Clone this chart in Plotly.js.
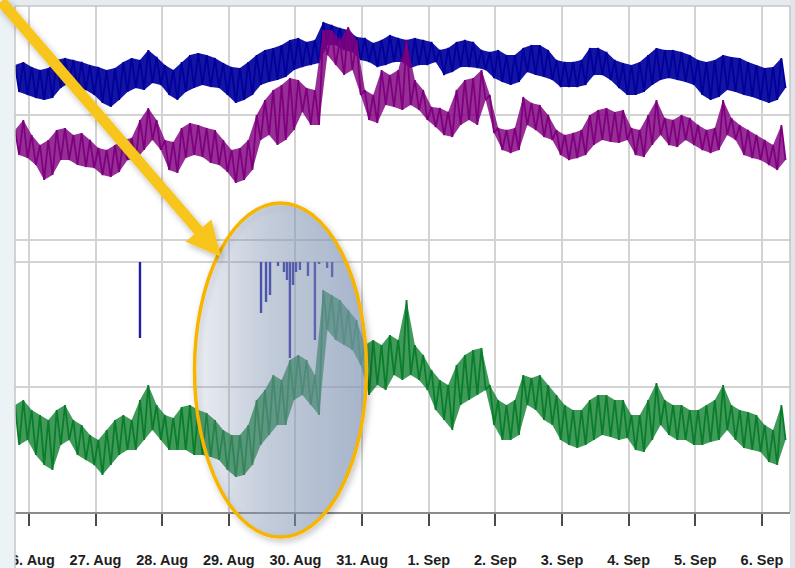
<!DOCTYPE html>
<html>
<head>
<meta charset="utf-8">
<script src="https://cdn.plot.ly/plotly-3.0.1.min.js"></script>
<style>
html,body{margin:0;padding:0;background:#ffffff;}
#chart{width:795px;height:568px;}
</style>
</head>
<body>
<div id="chart"></div>
<script>
// ---- DATA ----
// samples every 3 hours starting 25 Aug 19:00; "Hi" = top of the noise band, "Lo" = bottom of band (1.5 h later)
const sampleStart = '2021-08-25T19:00:00Z';
const sampleStepHours = 3;

const blueHi = [175,178,173,170,172,180,182,180,178,175,
  173,170,172,178,182,180,190,183,175,170,
  178,185,187,185,182,177,173,172,178,185,
  190,192,195,200,202,198,200,218,215,212,
  210,203,202,197,200,205,202,200,202,200,
  198,190,192,198,200,198,190,188,190,185,
  185,192,195,195,190,180,178,178,180,192,
  192,188,180,177,175,178,185,192,190,190,
  188,185,180,178,180,185,183,182,178,175,
  172,173,182];
const blueLo = [148,145,142,140,142,152,157,152,150,145,
  137,133,140,148,152,150,157,155,145,140,
  148,152,155,153,152,145,137,140,145,155,
  158,160,163,170,173,175,177,195,195,190,
  188,180,178,173,175,178,178,172,175,175,
  178,165,168,173,173,172,170,162,158,155,
  158,168,165,163,160,153,153,153,155,165,
  165,160,152,145,145,148,155,160,162,160,
  158,155,145,140,143,150,148,145,143,140,
  137,140,152];

const purpleHi = [110,120,105,95,100,110,112,105,107,100,
  92,90,95,100,102,120,132,120,100,98,
  112,117,115,112,110,100,90,92,100,125,
  140,150,155,162,160,152,150,210,210,200,
  213,200,150,145,170,165,170,200,160,150,
  133,132,128,150,160,162,170,145,112,110,
  112,143,137,135,125,110,105,107,110,125,
  130,132,128,130,112,110,125,140,122,120,
  125,122,115,110,112,140,122,115,110,105,
  100,95,115];
const purpleLo = [85,82,75,60,65,80,80,75,73,72,
  65,63,68,80,80,90,100,90,70,67,
  82,85,83,77,75,68,57,60,70,100,
  105,95,100,110,128,115,115,185,175,165,
  170,145,120,117,135,133,130,135,130,120,
  113,105,103,115,120,115,140,107,90,87,
  90,115,110,103,100,85,80,82,85,95,
  100,98,97,100,85,83,95,105,95,93,
  100,95,90,87,90,105,100,85,82,80,
  75,70,80];

const greenHi = [107,112,102,97,92,102,107,92,87,77,
  72,82,92,97,92,112,127,107,97,94,
  105,107,102,99,92,82,77,77,87,112,
  122,137,132,152,157,152,137,222,217,212,
  202,192,167,172,167,177,172,212,167,157,
  142,132,127,147,157,162,164,127,112,107,
  112,137,134,137,127,117,107,102,102,112,
  117,117,112,112,97,97,112,129,112,107,
  107,102,102,107,112,127,107,102,100,97,
  87,82,107];
const greenLo = [67,72,57,47,42,67,72,57,52,47,
  37,47,57,62,62,72,82,72,62,62,
  62,57,57,55,52,42,35,37,47,67,
  77,87,87,112,117,107,97,182,172,167,
  162,147,117,127,122,137,132,137,132,122,
  102,92,82,107,112,117,122,87,72,72,
  77,107,102,92,87,72,67,64,67,72,
  77,75,72,74,62,60,72,87,77,72,
  72,67,67,70,72,82,72,64,62,60,
  50,47,72];

// drop-outs of the blue series in the lower panel (normal level = 250)
const dropBase = 250;
const dropTimes = ['2021-08-27 16:00','2021-08-29 11:36','2021-08-29 13:24','2021-08-29 14:50',
  '2021-08-29 17:43','2021-08-29 19:52','2021-08-29 20:57','2021-08-29 22:00',
  '2021-08-29 23:07','2021-08-30 00:12','2021-08-30 01:36','2021-08-30 04:30',
  '2021-08-30 07:00','2021-08-30 08:30','2021-08-30 11:24','2021-08-30 13:12'];
const dropLows = [174,199,210,217,246,240,232,154,227,240,242,236,172,248,244,235];

// ---- build traces ----
const t0 = Date.parse(sampleStart);
const HOUR = 3600e3;
const STEP = sampleStepHours*HOUR;
function bandTraces(hi, lo, color, fillcolor, yaxis){
  const xl = lo.map((v,i)=>t0 + (i+0.5)*STEP);
  const xh = hi.map((v,i)=>t0 + i*STEP);
  const zx=[], zy=[];
  for(let i=0;i<hi.length;i++){ zx.push(xh[i]); zy.push(hi[i]); zx.push(xl[i]); zy.push(lo[i]); }
  return [
    {x:xl, y:lo, type:'scatter', mode:'lines', line:{width:0, color:color}, yaxis:yaxis, hoverinfo:'skip'},
    {x:xh, y:hi, type:'scatter', mode:'lines', line:{width:0, color:color}, fill:'tonexty', fillcolor:fillcolor, yaxis:yaxis, hoverinfo:'skip'},
    {x:zx, y:zy, type:'scatter', mode:'lines', line:{color:color, width:1.8}, yaxis:yaxis, hoverinfo:'skip'}
  ];
}
const dX=[], dY=[];
dropTimes.forEach((t,i)=>{ dX.push(t,t,null); dY.push(dropBase, dropLows[i], null); });

const traces = [].concat(
  bandTraces(blueHi, blueLo, '#00009c', 'rgba(0,0,156,0.92)', 'y'),
  bandTraces(purpleHi, purpleLo, '#7f007f', 'rgba(127,0,127,0.82)', 'y'),
  bandTraces(greenHi, greenLo, '#0a7d2b', 'rgba(10,125,43,0.78)', 'y2'),
  [{x:dX, y:dY, type:'scatter', mode:'lines', line:{color:'#1f1fa3', width:2.4}, yaxis:'y2', hoverinfo:'skip', connectgaps:false}]
);

const grid = '#d3d3d3';
const layout = {
  width:795, height:568,
  margin:{l:15, r:5, t:6, b:56, pad:0},
  paper_bgcolor:'#ffffff', plot_bgcolor:'#ffffff',
  showlegend:false,
  xaxis:{
    type:'date',
    range:[Date.parse('2021-08-25T18:59:40Z'), Date.parse('2021-09-06T10:06:00Z')],
    tick0:'2021-08-26', dtick:86400000, tickformat:'%-d. %b',
    showgrid:true, gridcolor:grid, gridwidth:2,
    ticks:'outside', ticklen:12, tickwidth:2, tickcolor:'#4a4a4a',
    showline:true, linecolor:'#8c8c8c', linewidth:2,
    ticklabelstandoff:22,
    tickfont:{family:'Liberation Sans, Arial, sans-serif', size:14.5, color:'#1e1e1e', weight:'bold'},
    zeroline:false, fixedrange:true
  },
  yaxis:{
    range:[-272, 234], tickvals:[0,125,250], showticklabels:false, ticks:'',
    showgrid:true, gridcolor:grid, gridwidth:2, zeroline:false, showline:false, fixedrange:true
  },
  yaxis2:{
    overlaying:'y', range:[0, 506], tickvals:[0,125,250], showticklabels:false, ticks:'',
    showgrid:true, gridcolor:grid, gridwidth:2, zeroline:false, showline:false, fixedrange:true
  },
  shapes:[
    {type:'rect', xref:'paper', yref:'paper', x0:-0.03, x1:0, y0:-0.2, y1:1.03, fillcolor:'#ecf3f6', line:{width:0}, layer:'above'},
    {type:'rect', xref:'paper', yref:'paper', x0:-0.03, x1:1.02, y0:1, y1:1.03, fillcolor:'#e6ebee', line:{width:0}, layer:'above'},
    {type:'rect', xref:'paper', yref:'paper', x0:1, x1:1.02, y0:-0.2, y1:1.03, fillcolor:'#dfe5e8', line:{width:0}, layer:'above'},
    {type:'line', xref:'paper', yref:'paper', x0:0, x1:0, y0:-0.2, y1:1, line:{color:'#c6c6c6', width:1.5}, layer:'above'},
    {type:'line', xref:'paper', yref:'paper', x0:0, x1:1, y0:1, y1:1, line:{color:'#c6c6c6', width:1.5}, layer:'above'},
    {type:'line', xref:'paper', yref:'paper', x0:1, x1:1, y0:0, y1:1, line:{color:'#c6c6c6', width:1.5}, layer:'above'},
    {type:'circle', xref:'paper', yref:'paper', x0:0.2316, x1:0.4535, y0:-0.0494, y1:0.6107,
     fillcolor:'rgba(135,153,185,0.45)', line:{color:'#f8b500', width:3.5}, layer:'above'}
  ],
  annotations:[
    {xref:'paper', yref:'paper', x:0.2655, y:0.505, ax:-225, ay:-270, text:'',
     showarrow:true, arrowhead:2, arrowsize:0.62, arrowwidth:11, arrowcolor:'#f7c51a', standoff:0}
  ]
};

Plotly.newPlot('chart', traces, layout, {displayModeBar:false, staticPlot:true}).then(gd=>{
  const NS='http://www.w3.org/2000/svg';
  const svg = gd.querySelector('svg.main-svg');
  let defs = svg.querySelector('defs');
  if(!defs){ defs = document.createElementNS(NS,'defs'); svg.insertBefore(defs, svg.firstChild); }
  const grad = document.createElementNS(NS,'linearGradient');
  grad.setAttribute('id','ellGrad');
  grad.setAttribute('x1','0'); grad.setAttribute('y1','0'); grad.setAttribute('x2','1'); grad.setAttribute('y2','0');
  [[0,0.12],[0.45,0.42],[1,0.66]].forEach(([o,a])=>{
    const s=document.createElementNS(NS,'stop');
    s.setAttribute('offset',o); s.setAttribute('stop-color','rgb(138,158,190)'); s.setAttribute('stop-opacity',a);
    grad.appendChild(s);
  });
  defs.appendChild(grad);
  const filt = document.createElementNS(NS,'filter');
  filt.setAttribute('id','softShadow');
  filt.setAttribute('x','-20%'); filt.setAttribute('y','-20%'); filt.setAttribute('width','140%'); filt.setAttribute('height','140%');
  const ds = document.createElementNS(NS,'feDropShadow');
  ds.setAttribute('dx','2'); ds.setAttribute('dy','3'); ds.setAttribute('stdDeviation','3');
  ds.setAttribute('flood-color','#000'); ds.setAttribute('flood-opacity','0.28');
  filt.appendChild(ds); defs.appendChild(filt);
  gd.querySelectorAll('.shapelayer path').forEach(pth=>{
    if((pth.style.stroke||'').replace(/\s/g,'')==='rgb(248,181,0)'){
      pth.style.fill='url(#ellGrad)'; pth.style.fillOpacity='1';
      pth.setAttribute('filter','url(#softShadow)');
    }
  });
  gd.querySelectorAll('.annotation-arrow-g').forEach(a=>a.setAttribute('filter','url(#softShadow)'));
});
</script>
</body>
</html>
